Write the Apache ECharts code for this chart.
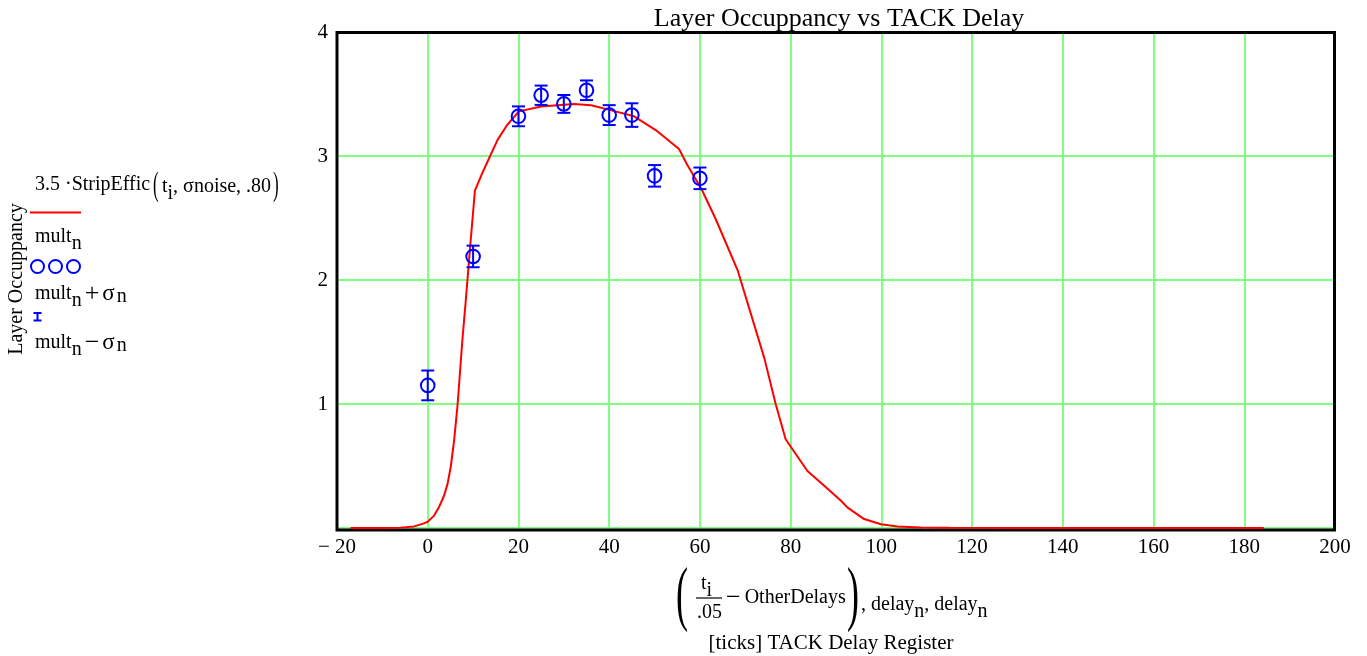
<!DOCTYPE html>
<html>
<head>
<meta charset="utf-8">
<script src="https://cdn.jsdelivr.net/npm/echarts@6/dist/echarts.min.js"></script>
<style>html,body{margin:0;padding:0;background:#fff}#c{width:1367px;height:656px}</style>
</head>
<body>
<div id="c"></div>
<script>
// Model curve: 3.5·StripEffic(t_i, σnoise, .80)
var curveX = [-17, -10, -6, -3, -1, 0, 1.4, 2.5, 3.6, 4.4, 5.1, 5.8, 6.55, 7.1, 7.65, 8.4, 9.2, 10.4, 12, 13.5, 15.4, 17.5, 20.1, 25, 32.3, 36, 40.3, 45.5, 50.6, 55.4, 57.2, 60.4, 63.5, 68.3, 74.2, 76.7, 78.9, 83.7, 87.4, 91.1, 92.5, 96.2, 99.9, 103.6, 108.7, 115, 130, 184.3];
var curveY = [0, 0, 0.003, 0.013, 0.035, 0.05, 0.1, 0.17, 0.26, 0.36, 0.5, 0.7, 0.98, 1.25, 1.52, 1.84, 2.2, 2.72, 2.86, 2.98, 3.13, 3.25, 3.36, 3.40, 3.42, 3.41, 3.37, 3.32, 3.20, 3.056, 2.93, 2.73, 2.49, 2.08, 1.37, 1.0, 0.716, 0.46, 0.34, 0.22, 0.166, 0.072, 0.03, 0.013, 0.005, 0.002, 0, 0];
// Measurements: delay_n, mult_n, sigma_n
var delay = [0, 10, 20, 25, 30, 35, 40, 45, 50, 60];
var mult = [1.15, 2.19, 3.32, 3.49, 3.42, 3.53, 3.33, 3.33, 2.84, 2.82];
var sigma = [0.12, 0.087, 0.08, 0.078, 0.072, 0.079, 0.08, 0.095, 0.087, 0.087];
var xTicks = [-20, 0, 20, 40, 60, 80, 100, 120, 140, 160, 180, 200];
var yTicks = [0, 1, 2, 3, 4];

var FONT = "'Liberation Serif','Times New Roman',serif";
var RED = '#ff0000', BLUE = '#0000ff', GREEN = '#80ff80';

var lineData = curveX.map(function (x, i) { return [x, curveY[i]]; });
var errData = delay.map(function (d, i) { return [d, mult[i], sigma[i]]; });

var chart = echarts.init(document.getElementById('c'), null, {renderer: 'canvas'});

var richBase = {
  a: {fontSize: 20, fontFamily: FONT, color: '#000'},
  g: {fontSize: 23, fontFamily: FONT, color: '#000', padding: [0, 2, 0, 0]},
  s: {fontSize: 20, fontFamily: FONT, color: '#000', padding: [14, 0, 0, 0]},
  t: {fontSize: 20, fontFamily: FONT, color: '#000', padding: [6, 0, 0, 0]},
  o: {fontSize: 26, fontFamily: FONT, color: '#000', padding: [0, 3, 0, 3]},
  m: {fontSize: 26, fontFamily: FONT, color: '#000', padding: [0, 4, 0, 0]}
};

function paren(ch, x, y, size) {
  return {type: 'text', x: x, y: y, scaleX: 0.5, style: {text: ch, fontFamily: FONT, fontSize: size, fill: '#000', verticalAlign: 'middle'}};
}

chart.setOption({
  animation: false,
  title: {
    text: 'Layer Occuppancy vs TACK Delay',
    left: 834, top: 1, textAlign: 'center',
    textStyle: {fontFamily: FONT, fontSize: 26, fontWeight: 'normal', color: '#000'}
  },
  grid: {left: 337, right: 32, top: 32, bottom: 128, show: false},
  xAxis: {
    type: 'value', min: xTicks[0], max: xTicks[xTicks.length - 1], interval: 20,
    axisLine: {show: false},
    axisTick: {show: false},
    splitLine: {show: true, lineStyle: {color: GREEN, width: 2}},
    axisLabel: {
      margin: 9, fontFamily: FONT, fontSize: 21, color: '#000',
      formatter: function (v) { return v < 0 ? '\u2212 ' + Math.abs(v) : String(v); }
    }
  },
  yAxis: {
    type: 'value', min: yTicks[0], max: yTicks[yTicks.length - 1], interval: 1,
    axisLine: {show: false},
    axisTick: {show: false},
    splitLine: {show: true, lineStyle: {color: GREEN, width: 2}},
    axisLabel: {
      margin: 9, fontFamily: FONT, fontSize: 21, color: '#000',
      formatter: function (v) { return v === 0 ? '' : String(v); }
    }
  },
  series: [
    {
      type: 'line', data: lineData, showSymbol: false, smooth: false,
      lineStyle: {color: RED, width: 2}, z: 3, silent: true
    },
    {
      type: 'custom', z: 4, data: errData,
      renderItem: function (params, api) {
        var x = api.value(0), y = api.value(1), e = api.value(2);
        var c = api.coord([x, y]);
        var top = api.coord([x, y + e]);
        var bot = api.coord([x, y - e]);
        var hw = 6.5;
        var st = {stroke: BLUE, lineWidth: 2, fill: null};
        return {
          type: 'group',
          children: [
            {type: 'line', shape: {x1: c[0], y1: top[1], x2: c[0], y2: bot[1]}, style: st},
            {type: 'line', shape: {x1: c[0] - hw, y1: top[1], x2: c[0] + hw, y2: top[1]}, style: st},
            {type: 'line', shape: {x1: c[0] - hw, y1: bot[1], x2: c[0] + hw, y2: bot[1]}, style: st},
            {type: 'circle', shape: {cx: c[0], cy: c[1], r: 6.8}, style: {stroke: BLUE, lineWidth: 2, fill: 'none'}}
          ]
        };
      }
    }
  ],
  graphic: [
    // plot frame
    {type: 'rect', z: 1, shape: {x: 337, y: 32.5, width: 997.5, height: 497.5}, style: {stroke: '#000', lineWidth: 3, fill: 'none'}},
    // y axis title
    {type: 'text', x: 17, y: 279, rotation: Math.PI / 2, style: {text: 'Layer Occuppancy', fontFamily: FONT, fontSize: 20, fill: '#000', align: 'center', verticalAlign: 'middle'}},
    // legend entry 1
    {type: 'text', x: 35, y: 185, style: {text: '{a|3.5 ·StripEffic}', rich: richBase, verticalAlign: 'middle'}},
    paren('(', 153, 186, 34),
    {type: 'text', x: 162, y: 187, style: {text: '{a|t}{s|i}{a|, σnoise, .80}', rich: richBase, verticalAlign: 'middle'}},
    paren(')', 273, 186, 34),
    {type: 'line', shape: {x1: 30, y1: 212.5, x2: 81, y2: 212.5}, style: {stroke: RED, lineWidth: 2}},
    {type: 'text', x: 35, y: 237, style: {text: '{a|mult}{s|n}', rich: richBase, verticalAlign: 'middle'}},
    // legend entry 2
    {type: 'circle', shape: {cx: 37.5, cy: 266.5, r: 6.5}, style: {stroke: BLUE, lineWidth: 2, fill: 'none'}},
    {type: 'circle', shape: {cx: 55.5, cy: 266.5, r: 6.5}, style: {stroke: BLUE, lineWidth: 2, fill: 'none'}},
    {type: 'circle', shape: {cx: 73.5, cy: 266.5, r: 6.5}, style: {stroke: BLUE, lineWidth: 2, fill: 'none'}},
    {type: 'text', x: 35, y: 294, style: {text: '{a|mult}{s|n}{o|+}{g|σ}{t|n}', rich: richBase, verticalAlign: 'middle'}},
    // legend entry 3
    {type: 'line', shape: {x1: 37.5, y1: 313, x2: 37.5, y2: 320.5}, style: {stroke: BLUE, lineWidth: 2}},
    {type: 'line', shape: {x1: 33.5, y1: 313, x2: 41.5, y2: 313}, style: {stroke: BLUE, lineWidth: 2}},
    {type: 'line', shape: {x1: 33.5, y1: 320.5, x2: 41.5, y2: 320.5}, style: {stroke: BLUE, lineWidth: 2}},
    {type: 'text', x: 35, y: 343, style: {text: '{a|mult}{s|n}{o|\u2212}{g|σ}{t|n}', rich: richBase, verticalAlign: 'middle'}},
    // x axis title line 1
    paren('(', 676, 598, 72),
    {type: 'text', x: 701, y: 584, style: {text: '{a|t}{s|i}', rich: richBase, verticalAlign: 'middle'}},
    {type: 'line', shape: {x1: 696, y1: 598, x2: 722, y2: 598}, style: {stroke: '#000', lineWidth: 1.2}},
    {type: 'text', x: 697, y: 613, style: {text: '.05', fontFamily: FONT, fontSize: 20, fill: '#000', verticalAlign: 'middle'}},
    {type: 'text', x: 726, y: 598, style: {text: '{m|\u2212}{a|OtherDelays}', rich: richBase, verticalAlign: 'middle'}},
    paren(')', 847, 598, 72),
    {type: 'text', x: 861, y: 605, style: {text: '{a|, delay}{s|n}{a|, delay}{s|n}', rich: richBase, verticalAlign: 'middle'}},
    // x axis title line 2
    {type: 'text', x: 831, y: 643, style: {text: '[ticks] TACK Delay Register', fontFamily: FONT, fontSize: 21, fill: '#000', align: 'center', verticalAlign: 'middle'}}
  ]
});
</script>
</body>
</html>
